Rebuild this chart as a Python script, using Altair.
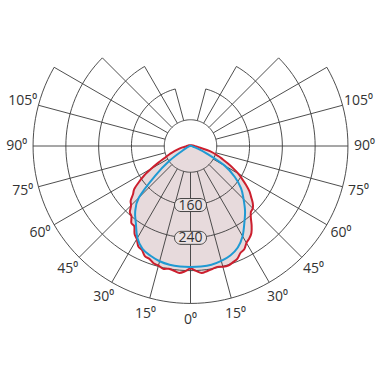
import altair as alt
import pandas as pd

# ---------------- data (luminous intensity, cd, vs angle from nadir in degrees) ----------------
red_half_angles = [0, 2.5, 5, 7.5, 10, 12.5, 15, 17.5, 20, 22.5, 25, 27.5, 30, 32.5, 35, 37.5,
                   40, 42.5, 45, 47.5, 50, 52.5, 55, 57.5, 60, 62.5, 65, 67.5, 70, 75, 80, 85,
                   90, 100, 120, 150, 180]
red_left = [315, 322, 327, 323, 320, 323, 318, 316, 309, 307, 296, 292, 278, 270, 255, 253,
            240, 235, 221, 214, 199, 189, 170, 150, 126, 105, 87, 75, 65, 48, 36, 28,
            25, 22, 20, 18, 18]
red_right = [315, 321, 327, 324, 321, 318, 321, 322, 318, 314, 304, 300, 289, 283, 275, 261,
             245, 234, 231, 222, 209, 197, 181, 165, 150, 133, 116, 101, 89, 65, 40, 31,
             26, 22, 20, 18, 18]

blue_half_angles = [0, 5, 10, 15, 20, 25, 30, 35, 40, 45, 50, 55, 60, 65, 70, 75, 80, 90, 120, 150, 180]
blue_left = [311, 311, 310, 307, 301, 293, 275, 248, 226, 194, 128, 77, 38, 26, 21, 20, 19, 18, 17, 16, 16]
blue_right = [311, 311, 310, 306, 300, 289, 270, 245, 223, 199, 177, 148, 113, 60, 33, 23, 21, 18, 17, 16, 16]

ring_values = [80, 160, 240, 320, 400]
ring_end_angles = [180, 165, 150, 135, 120]
spoke_angles = [0, 15, 30, 45, 60, 75, 90, 105, 120, 135, 150, 165]
spoke_ends = [400, 400, 400, 400, 400, 400, 400, 400, 400, 320, 240, 160]
angle_labels = [0, 15, 30, 45, 60, 75, 90, 105]
value_labels = [160, 240]

LABEL_RADIUS = 440  # cd position of angle labels

# ---------------- tables ----------------
def full_curve(half_angles, left, right):
    rows = []
    for a, v in zip(reversed(half_angles[1:]), reversed(left[1:])):
        rows.append({"a": -a, "v": v})
    for a, v in zip(half_angles[:-1], right[:-1]):
        rows.append({"a": a, "v": v})
    return pd.DataFrame(rows)

red_df = full_curve(red_half_angles, red_left, red_right)
blue_df = full_curve(blue_half_angles, blue_left, blue_right)

ring_rows = []
for rv, end in zip(ring_values, ring_end_angles):
    a = -end
    while a <= end + 1e-9:
        ring_rows.append({"ring": rv, "a": a, "v": rv})
        a += 2.5
ring_df = pd.DataFrame(ring_rows)

spoke_rows = []
for a, e in zip(spoke_angles, spoke_ends):
    for s in ([a] if a == 0 else [-a, a]):
        spoke_rows.append({"a": s, "v": 80, "v2": e})
spoke_df = pd.DataFrame(spoke_rows)

lab_rows = []
for a in angle_labels:
    for s in ([a] if a == 0 else [-a, a]):
        lab_rows.append({"a": s, "v": LABEL_RADIUS, "t": f"{a}\u2070"})
lab_df = pd.DataFrame(lab_rows)

val_df = pd.DataFrame({"a": [0, 0], "v": value_labels, "t": [str(v) for v in value_labels]})

# ---------------- polar -> cartesian through the chart's linear scales ----------------
CX, CY, K, V0 = 190.5, 146, 0.41, 16
def rad(f):
    return f"max(0, (datum.{f} - {V0}) * {K})"
XE = lambda f: f"{CX} + {rad(f)} * sin(datum.a * PI / 180)"
YE = lambda f: f"{CY} + {rad(f)} * cos(datum.a * PI / 180)"

xs = alt.Scale(domain=[0, 380], nice=False, zero=False)
ys = alt.Scale(domain=[0, 380], nice=False, zero=False, reverse=True)
X = alt.X("x:Q", scale=xs, axis=None)
Y = alt.Y("y:Q", scale=ys, axis=None)

def base(df):
    return alt.Chart(df).transform_calculate(x=XE("v"), y=YE("v"))

fill = base(red_df).mark_line(fill="#e7dadc", strokeWidth=0, interpolate="cardinal-closed").encode(
    x=X, y=Y, order="a:Q")

rings = base(ring_df).mark_line(color="#3a3a3a", strokeWidth=0.9).encode(
    x=X, y=Y, detail="ring:N", order="a:Q")

spokes = alt.Chart(spoke_df).transform_calculate(
    x=XE("v"), y=YE("v"), x2=XE("v2"), y2=YE("v2")
).mark_rule(color="#3a3a3a", strokeWidth=0.9).encode(
    x=X, y=Y, x2="x2:Q", y2="y2:Q")

red_line = base(red_df).mark_line(color="#cc1f2e", strokeWidth=2, interpolate="cardinal-closed").encode(
    x=X, y=Y, order="a:Q")
blue_line = base(blue_df).mark_line(color="#1f9ad3", strokeWidth=2, interpolate="cardinal-closed").encode(
    x=X, y=Y, order="a:Q")

boxes = alt.Chart(val_df).transform_calculate(
    xc=XE("v"), yc=YE("v")
).transform_calculate(
    x="datum.xc - 16", x2="datum.xc + 16", y="datum.yc - 6.5", y2="datum.yc + 6.5"
).mark_rect(fill="#ebe2e3", stroke="#444444", strokeWidth=1, cornerRadius=6.5).encode(
    x=X, y=Y, x2="x2:Q", y2="y2:Q")

box_text = base(val_df).mark_text(font="Open Sans", fontSize=14, color="#333333",
                                  align="center", baseline="middle", dy=0.5).encode(
    x=X, y=Y, text="t:N")

labels = base(lab_df).mark_text(font="Open Sans", fontSize=14, color="#333333",
                                align="center", baseline="middle").encode(
    x=X, y=Y, text="t:N")

chart = alt.layer(fill, rings, spokes, red_line, blue_line, boxes, box_text, labels).properties(
    width=380, height=380, autosize=alt.AutoSizeParams(type="none"), padding=0
).configure_view(stroke=None)

chart.save("out.html", embed_options={"renderer": "svg", "actions": False})
